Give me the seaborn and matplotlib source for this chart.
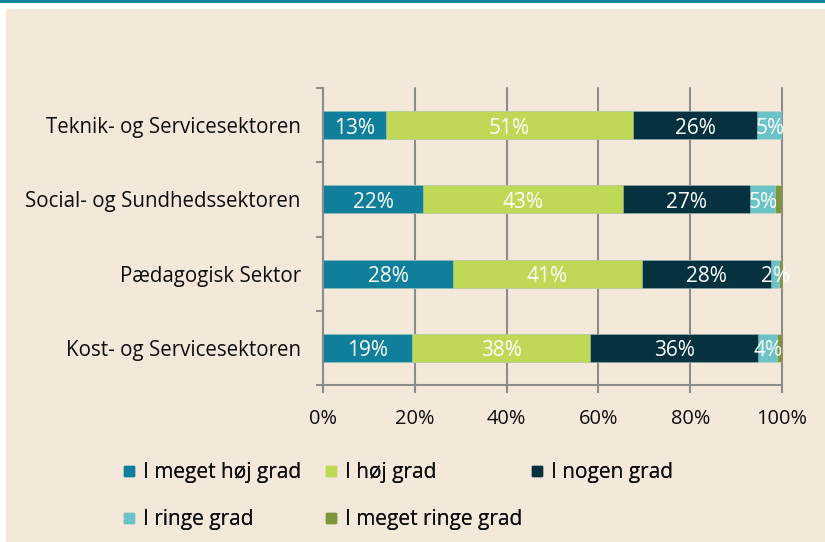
import numpy as np
import pandas as pd
import matplotlib
matplotlib.use("Agg")
import matplotlib.pyplot as plt
import seaborn as sns
from matplotlib.patches import Rectangle
from matplotlib.lines import Line2D

# ---------------- data ----------------
categories = ["Teknik- og Servicesektoren", "Social- og Sundhedssektoren",
              "Pædagogisk Sektor", "Kost- og Servicesektoren"]
series = ["I meget høj grad", "I høj grad", "I nogen grad", "I ringe grad", "I meget ringe grad"]
meget_hoej = [13.1, 21.6, 28.2, 19.1]
hoej = [51.3, 43.0, 41.0, 38.0]
nogen = [25.9, 27.3, 28.0, 35.8]
ringe = [5.1, 5.3, 1.8, 4.1]
meget_ringe = [0.0, 1.5, 0.6, 1.0]
xtick_vals = [0, 0.2, 0.4, 0.6, 0.8, 1.0]
xtick_labels = ["0%", "20%", "40%", "60%", "80%", "100%"]

colors = ["#107F9C", "#BFD855", "#06323F", "#6BC3C6", "#7D953B"]
BG = "#F4E8DA"
GRID = "#8C8C8C"
TXT = "#0D0D0D"

sns.set_theme(style="white")
plt.rcParams["font.family"] = ["Open Sans", "DejaVu Sans"]

df = pd.DataFrame({"kategori": categories,
                   series[0]: meget_hoej, series[1]: hoej, series[2]: nogen,
                   series[3]: ringe, series[4]: meget_ringe})
vals = df[series]
shares = vals.div(vals.sum(axis=1), axis=0)
cum = shares.cumsum(axis=1)
start = cum - shares

fig = plt.figure(figsize=(8.25, 5.42), dpi=100)
fig.patch.set_facecolor("white")
fig.patches.append(Rectangle((6 / 825, 0), 1, 1 - 9 / 542, transform=fig.transFigure,
                             facecolor=BG, edgecolor="none", zorder=-10))
fig.patches.append(Rectangle((0, 1 - 3 / 542), 1, 3 / 542, transform=fig.transFigure,
                             facecolor="#0E8399", edgecolor="none", zorder=-9))

ax = fig.add_axes([323 / 825, 1 - 385 / 542, (782 - 323) / 825, (385 - 88) / 542])
ax.set_facecolor("none")

for i in reversed(range(len(series))):
    plot_df = pd.DataFrame({"kategori": categories, "x": cum[series[i]].values})
    sns.barplot(data=plot_df, x="x", y="kategori", orient="h", color=colors[i],
                width=0.377, saturation=1, ax=ax, edgecolor=(1, 1, 1, 0.3), linewidth=0.6)

# value labels
for i in range(len(series) - 1):
    for j, cat in enumerate(categories):
        v = vals.iloc[j, i]
        xc = start.iloc[j, i] + shares.iloc[j, i] / 2
        ax.text(xc, j + 0.04, f"{v:.0f}%", color="white", ha="center", va="center",
                fontsize=15, zorder=5)

ax.set_xlim(0, 1.0)
ax.set_ylim(len(categories) - 0.5, -0.5)
ax.set_xticks(xtick_vals)
ax.set_xticklabels(xtick_labels)
ax.set_xlabel("")
ax.set_ylabel("")
ax.set_yticks(range(len(categories)))
ax.set_yticks(np.arange(-0.5, len(categories), 1.0), minor=True)
ax.tick_params(axis="y", which="major", length=0, pad=16, labelsize=14.8, labelcolor=TXT)
ax.tick_params(axis="y", which="minor", left=True, length=5, width=1.5, color=GRID)
ax.tick_params(axis="x", which="major", bottom=True, length=6, width=1.5, color=GRID,
               pad=11, labelsize=14.4, labelcolor=TXT)
ax.set_axisbelow(True)
ax.xaxis.grid(True, color=GRID, linewidth=1.5, clip_on=False)
ax.yaxis.grid(False)
for s in ["top", "right"]:
    ax.spines[s].set_visible(False)
for s in ["left", "bottom"]:
    ax.spines[s].set_color(GRID)
    ax.spines[s].set_linewidth(1.5)

# legend: three columns placed individually
def handle(c):
    return Line2D([], [], marker="s", linestyle="none", markersize=7.2,
                  markerfacecolor=c, markeredgecolor=c)

cols = [[0, 3], [1, 4], [2]]
col_x = [121, 323, 529]
for idxs, cx in zip(cols, col_x):
    leg = fig.legend([handle(colors[k]) for k in idxs], [series[k] for k in idxs],
                     loc="upper left", bbox_to_anchor=(cx / 825, 1 - 462 / 542),
                     frameon=False, fontsize=15, borderpad=0, borderaxespad=0,
                     handlelength=0.75, handletextpad=0.3, labelspacing=1.27,
                     labelcolor=TXT)
    fig.add_artist(leg)

fig.savefig("out.png", dpi=100, facecolor=fig.get_facecolor())
